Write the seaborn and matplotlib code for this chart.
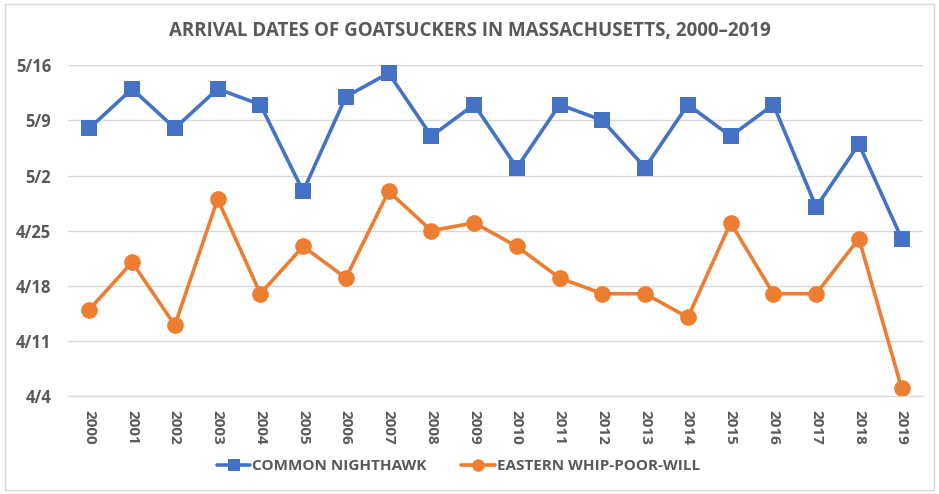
import pandas as pd
import matplotlib.pyplot as plt
import matplotlib.patches as mpatches
import seaborn as sns

years = list(range(2000, 2020))
nighthawk = ["5/8", "5/13", "5/8", "5/13", "5/11", "4/30", "5/12", "5/15", "5/7", "5/11",
             "5/3", "5/11", "5/9", "5/3", "5/11", "5/7", "5/11", "4/28", "5/6", "4/24"]
whip_poor_will = ["4/15", "4/21", "4/13", "4/29", "4/17", "4/23", "4/19", "4/30", "4/25", "4/26",
                  "4/23", "4/19", "4/17", "4/17", "4/14", "4/26", "4/17", "4/17", "4/24", "4/5"]
y_ticks = ["4/4", "4/11", "4/18", "4/25", "5/2", "5/9", "5/16"]

def to_day(s):
    return pd.to_datetime("2020/" + s, format="%Y/%m/%d").dayofyear

df = pd.DataFrame({
    "Year": years * 2,
    "Day": [to_day(d) for d in nighthawk + whip_poor_will],
    "Species": ["COMMON NIGHTHAWK"] * 20 + ["EASTERN WHIP-POOR-WILL"] * 20,
})

sns.set_style("white")
plt.rcParams["font.family"] = ["Open Sans", "DejaVu Sans"]
text_color = "#595959"

fig = plt.figure(figsize=(9.39, 4.94), dpi=100)
ax = fig.add_axes([0.0724, 0.198, 0.9106, 0.670])
sns.lineplot(
    data=df, x="Year", y="Day", hue="Species", style="Species",
    palette={"COMMON NIGHTHAWK": "#4472C4", "EASTERN WHIP-POOR-WILL": "#ED7D31"},
    markers={"COMMON NIGHTHAWK": "s", "EASTERN WHIP-POOR-WILL": "o"},
    dashes=False, linewidth=2.6, markersize=12, markeredgewidth=0, ax=ax,
)

tick_days = [to_day(t) for t in y_ticks]
ax.set_yticks(tick_days)
ax.set_yticklabels(y_ticks, fontsize=12, fontweight="bold", color=text_color)
ax.set_ylim(tick_days[0], tick_days[-1])
ax.set_xlim(years[0] - 0.5, years[-1] + 0.5)
ax.set_xticks(years)
ax.set_xticklabels([str(y) for y in years], rotation=270, fontsize=11,
                   fontweight="bold", color=text_color)
ax.set_xticks([y + 0.5 for y in [years[0] - 1] + years], minor=True)
ax.tick_params(axis="x", which="major", length=0, pad=10)
ax.tick_params(axis="x", which="minor", length=5, color="#D9D9D9", width=1)
ax.tick_params(axis="y", length=0, pad=12)
ax.grid(axis="y", color="#D9D9D9", linewidth=1)
ax.set_axisbelow(True)
for side in ["top", "right", "left"]:
    ax.spines[side].set_visible(False)
ax.spines["bottom"].set_color("#D9D9D9")
ax.set_xlabel("")
ax.set_ylabel("")

handles, labels = ax.get_legend_handles_labels()
leg = ax.legend(handles, labels, loc="center", ncol=2, frameon=False,
                handlelength=2.2, handletextpad=0.1, columnspacing=2.3,
                prop={"size": 11, "weight": "bold"}, labelcolor=text_color)
leg.set_bbox_to_anchor((0.488, 0.056), transform=fig.transFigure)
for line in leg.get_lines():
    line.set_markersize(9)

fig.text(0.5, 0.937, "ARRIVAL DATES OF GOATSUCKERS IN MASSACHUSETTS, 2000\u20132019",
         ha="center", va="center", fontsize=13.5, fontweight="bold", color=text_color)
fig.patches.append(mpatches.Rectangle((0.005, 0.008), 0.99, 0.984, transform=fig.transFigure,
                                      fill=False, edgecolor="#D9D9D9", linewidth=1))

fig.savefig("out.png", dpi=100)
